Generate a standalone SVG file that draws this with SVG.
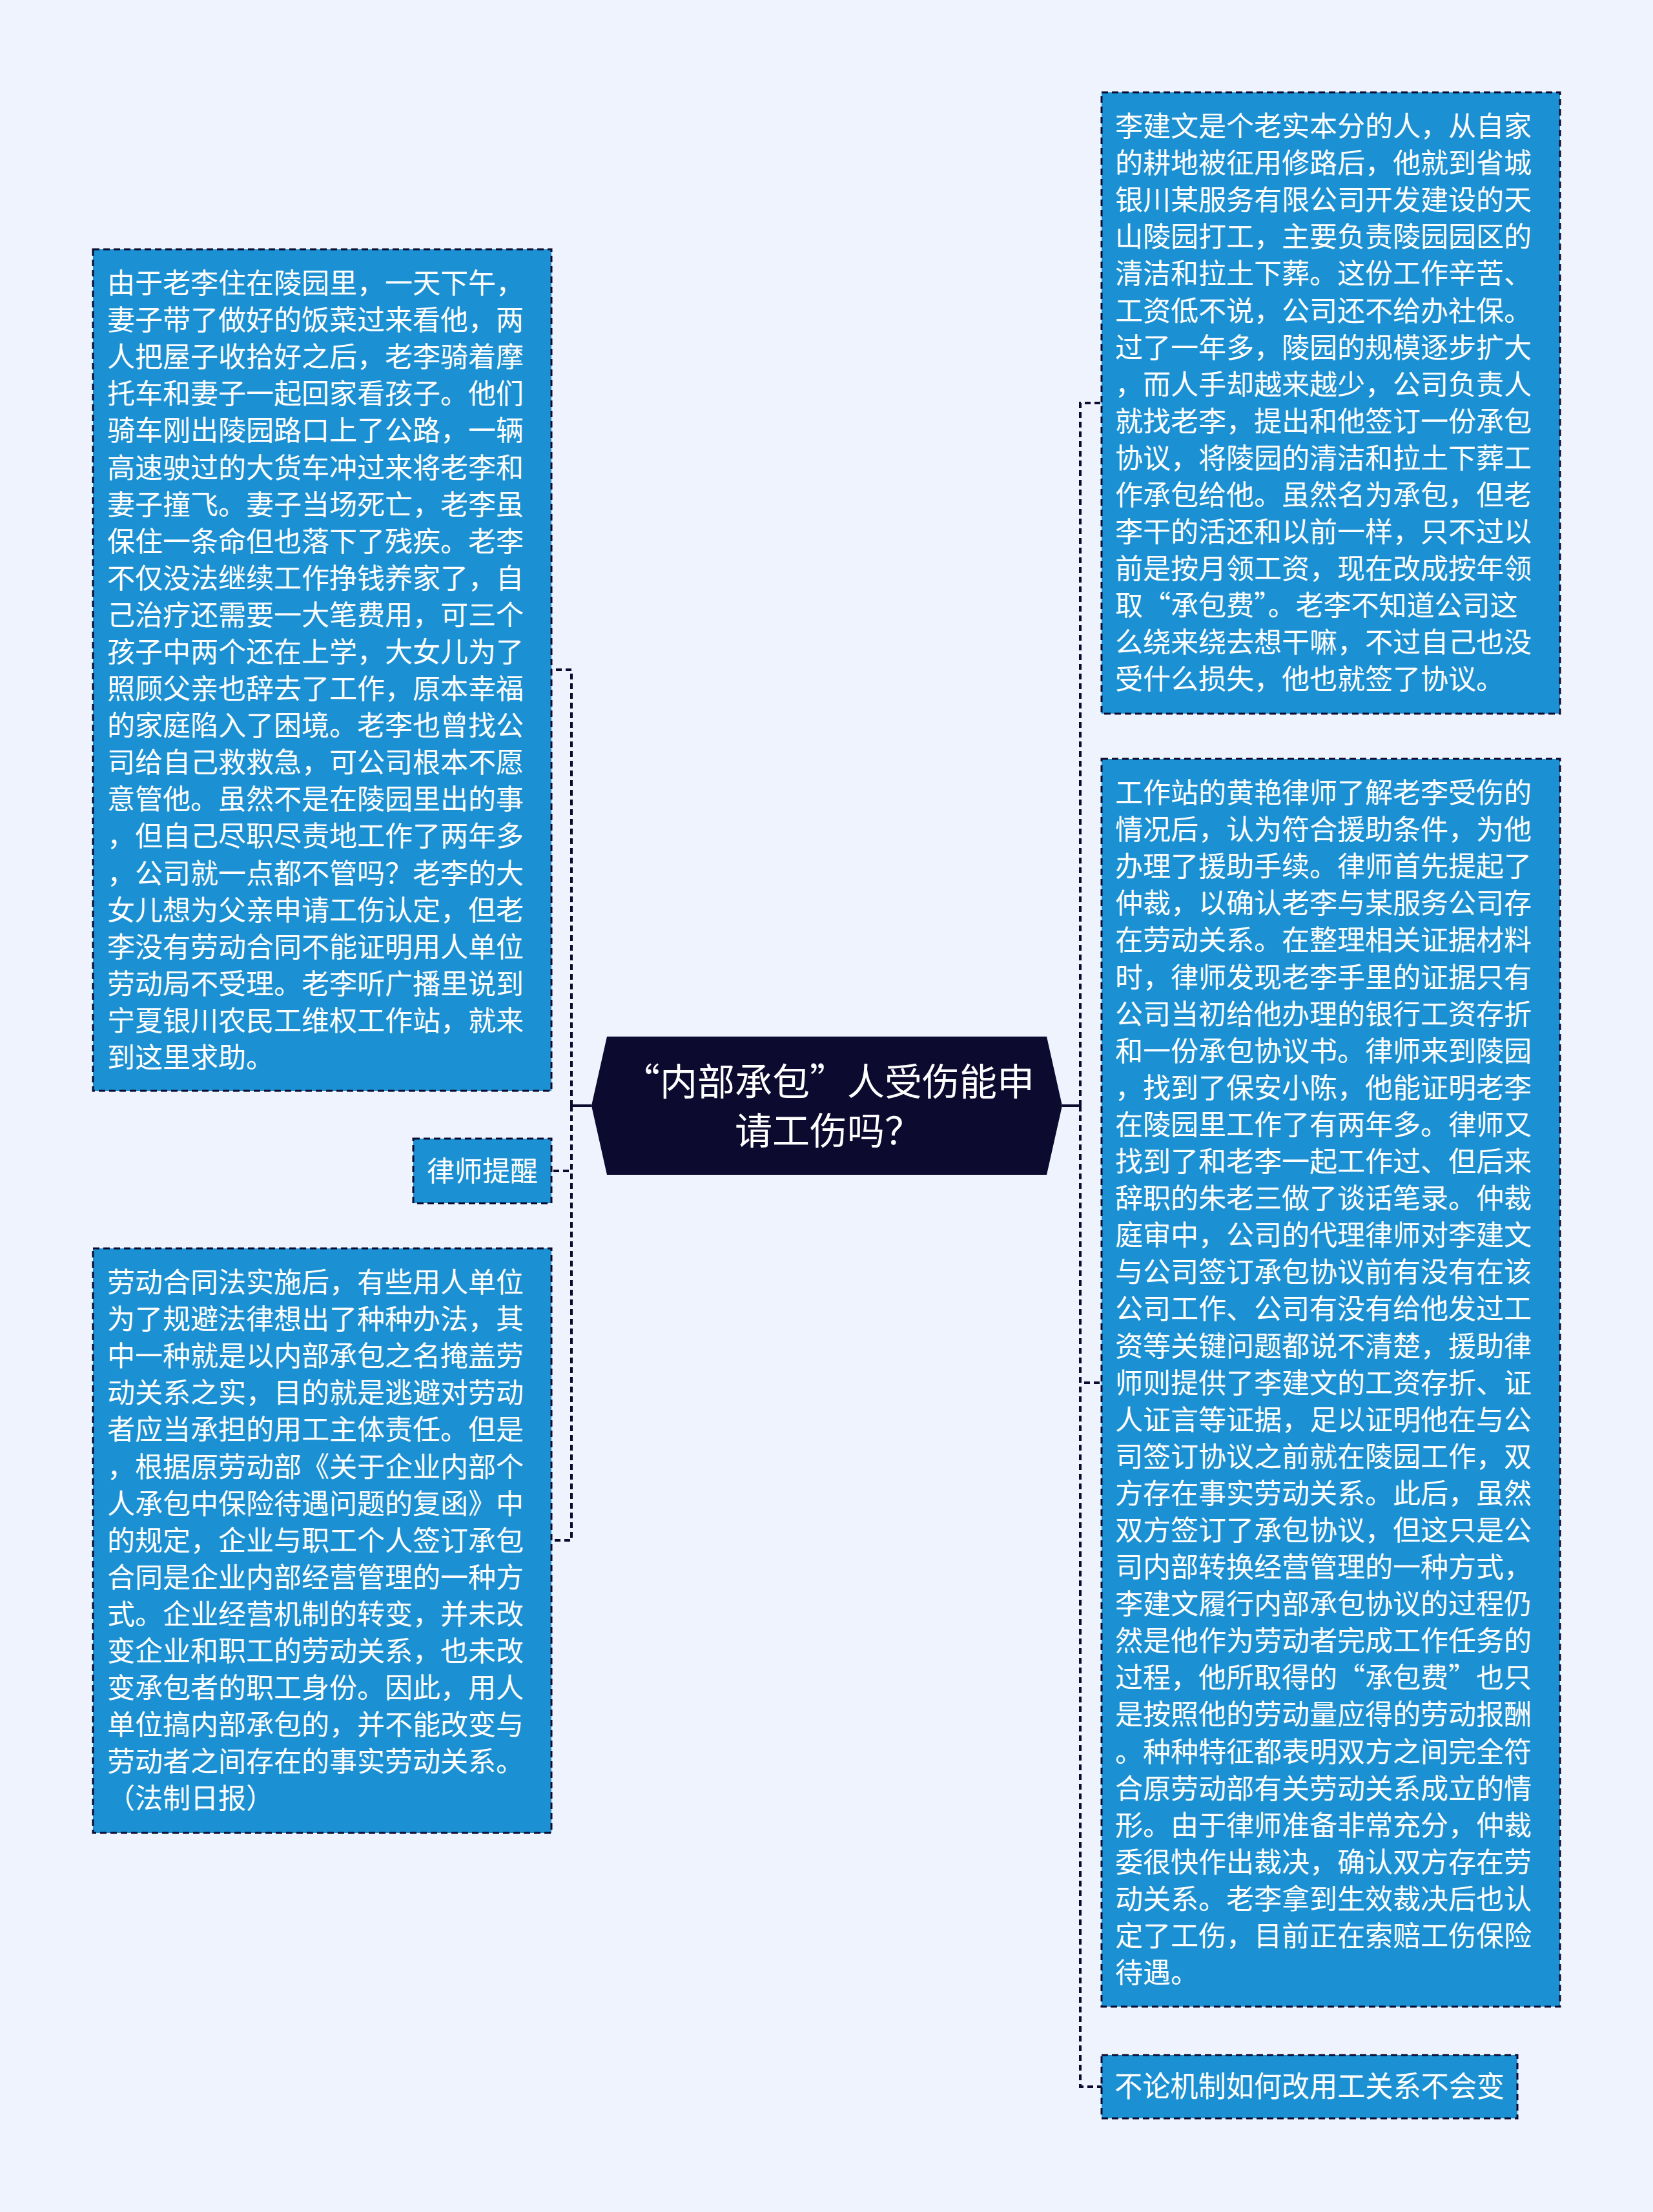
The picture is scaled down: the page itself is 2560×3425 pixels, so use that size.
<svg xmlns="http://www.w3.org/2000/svg" width="2560" height="3425" viewBox="0 0 2560 3425">
<style>
.box{fill:#1b90d2;stroke:#0c0a2e;stroke-width:3;stroke-dasharray:10 6}
.t{font-family:"Noto Sans CJK SC","Noto Sans CJK TC",sans-serif;font-size:43px;fill:#ffffff}
.edge{fill:none;stroke:#0c0a2e;stroke-width:4;stroke-dasharray:9 6}
.stub{fill:none;stroke:#0c0a2e;stroke-width:4}
</style>
<rect x="0" y="0" width="2560" height="3425" fill="#eef3fd"/>
<g id="connectors">
<path class="stub" d="M916 1712 H885"/>
<path class="edge" d="M885 1712 V1037 H854"/>
<path class="edge" d="M885 1712 V1813 H854"/>
<path class="edge" d="M885 1712 V2385 H854"/>
<path class="stub" d="M1645 1712 H1673"/>
<path class="edge" d="M1673 1712 V624 H1706"/>
<path class="edge" d="M1673 1712 V2141 H1706"/>
<path class="edge" d="M1673 1712 V3231 H1706"/>
</g>
<g id="center">
<polygon points="940,1605 1621,1605 1645,1712 1621,1819 940,1819 916,1712" fill="#0c0a2e"/>
<text class="t" style="font-size:58px" text-anchor="middle"><tspan x="1283" y="1696">“内部承包”人受伤能申</tspan><tspan x="1283" y="1772">请工伤吗？</tspan></text>
</g>
<g id="node-left-1">
<rect class="box" x="144" y="386" width="710" height="1303"/>
<text class="t" x="166" y="454"><tspan x="166">由于老李住在陵园里，一天下午，</tspan><tspan x="166" dy="57.1">妻子带了做好的饭菜过来看他，两</tspan><tspan x="166" dy="57.1">人把屋子收拾好之后，老李骑着摩</tspan><tspan x="166" dy="57.1">托车和妻子一起回家看孩子。他们</tspan><tspan x="166" dy="57.1">骑车刚出陵园路口上了公路，一辆</tspan><tspan x="166" dy="57.1">高速驶过的大货车冲过来将老李和</tspan><tspan x="166" dy="57.1">妻子撞飞。妻子当场死亡，老李虽</tspan><tspan x="166" dy="57.1">保住一条命但也落下了残疾。老李</tspan><tspan x="166" dy="57.1">不仅没法继续工作挣钱养家了，自</tspan><tspan x="166" dy="57.1">己治疗还需要一大笔费用，可三个</tspan><tspan x="166" dy="57.1">孩子中两个还在上学，大女儿为了</tspan><tspan x="166" dy="57.1">照顾父亲也辞去了工作，原本幸福</tspan><tspan x="166" dy="57.1">的家庭陷入了困境。老李也曾找公</tspan><tspan x="166" dy="57.1">司给自己救救急，可公司根本不愿</tspan><tspan x="166" dy="57.1">意管他。虽然不是在陵园里出的事</tspan><tspan x="166" dy="57.1">，但自己尽职尽责地工作了两年多</tspan><tspan x="166" dy="57.1">，公司就一点都不管吗？老李的大</tspan><tspan x="166" dy="57.1">女儿想为父亲申请工伤认定，但老</tspan><tspan x="166" dy="57.1">李没有劳动合同不能证明用人单位</tspan><tspan x="166" dy="57.1">劳动局不受理。老李听广播里说到</tspan><tspan x="166" dy="57.1">宁夏银川农民工维权工作站，就来</tspan><tspan x="166" dy="57.1">到这里求助。</tspan></text>
</g>
<g id="node-left-2">
<rect class="box" x="640" y="1763" width="214" height="100"/>
<text class="t" x="747" y="1829" text-anchor="middle">律师提醒</text>
</g>
<g id="node-left-3">
<rect class="box" x="144" y="1933" width="710" height="905"/>
<text class="t" x="166" y="2001"><tspan x="166">劳动合同法实施后，有些用人单位</tspan><tspan x="166" dy="57.1">为了规避法律想出了种种办法，其</tspan><tspan x="166" dy="57.1">中一种就是以内部承包之名掩盖劳</tspan><tspan x="166" dy="57.1">动关系之实，目的就是逃避对劳动</tspan><tspan x="166" dy="57.1">者应当承担的用工主体责任。但是</tspan><tspan x="166" dy="57.1">，根据原劳动部《关于企业内部个</tspan><tspan x="166" dy="57.1">人承包中保险待遇问题的复函》中</tspan><tspan x="166" dy="57.1">的规定，企业与职工个人签订承包</tspan><tspan x="166" dy="57.1">合同是企业内部经营管理的一种方</tspan><tspan x="166" dy="57.1">式。企业经营机制的转变，并未改</tspan><tspan x="166" dy="57.1">变企业和职工的劳动关系，也未改</tspan><tspan x="166" dy="57.1">变承包者的职工身份。因此，用人</tspan><tspan x="166" dy="57.1">单位搞内部承包的，并不能改变与</tspan><tspan x="166" dy="57.1">劳动者之间存在的事实劳动关系。</tspan><tspan x="166" dy="57.1">（法制日报）</tspan></text>
</g>
<g id="node-right-1">
<rect class="box" x="1706" y="143" width="710" height="962"/>
<text class="t" x="1727" y="211"><tspan x="1727">李建文是个老实本分的人，从自家</tspan><tspan x="1727" dy="57.1">的耕地被征用修路后，他就到省城</tspan><tspan x="1727" dy="57.1">银川某服务有限公司开发建设的天</tspan><tspan x="1727" dy="57.1">山陵园打工，主要负责陵园园区的</tspan><tspan x="1727" dy="57.1">清洁和拉土下葬。这份工作辛苦、</tspan><tspan x="1727" dy="57.1">工资低不说，公司还不给办社保。</tspan><tspan x="1727" dy="57.1">过了一年多，陵园的规模逐步扩大</tspan><tspan x="1727" dy="57.1">，而人手却越来越少，公司负责人</tspan><tspan x="1727" dy="57.1">就找老李，提出和他签订一份承包</tspan><tspan x="1727" dy="57.1">协议，将陵园的清洁和拉土下葬工</tspan><tspan x="1727" dy="57.1">作承包给他。虽然名为承包，但老</tspan><tspan x="1727" dy="57.1">李干的活还和以前一样，只不过以</tspan><tspan x="1727" dy="57.1">前是按月领工资，现在改成按年领</tspan><tspan x="1727" dy="57.1">取“承包费”。老李不知道公司这</tspan><tspan x="1727" dy="57.1">么绕来绕去想干嘛，不过自己也没</tspan><tspan x="1727" dy="57.1">受什么损失，他也就签了协议。</tspan></text>
</g>
<g id="node-right-2">
<rect class="box" x="1706" y="1175" width="710" height="1932"/>
<text class="t" x="1727" y="1243"><tspan x="1727">工作站的黄艳律师了解老李受伤的</tspan><tspan x="1727" dy="57.1">情况后，认为符合援助条件，为他</tspan><tspan x="1727" dy="57.1">办理了援助手续。律师首先提起了</tspan><tspan x="1727" dy="57.1">仲裁，以确认老李与某服务公司存</tspan><tspan x="1727" dy="57.1">在劳动关系。在整理相关证据材料</tspan><tspan x="1727" dy="57.1">时，律师发现老李手里的证据只有</tspan><tspan x="1727" dy="57.1">公司当初给他办理的银行工资存折</tspan><tspan x="1727" dy="57.1">和一份承包协议书。律师来到陵园</tspan><tspan x="1727" dy="57.1">，找到了保安小陈，他能证明老李</tspan><tspan x="1727" dy="57.1">在陵园里工作了有两年多。律师又</tspan><tspan x="1727" dy="57.1">找到了和老李一起工作过、但后来</tspan><tspan x="1727" dy="57.1">辞职的朱老三做了谈话笔录。仲裁</tspan><tspan x="1727" dy="57.1">庭审中，公司的代理律师对李建文</tspan><tspan x="1727" dy="57.1">与公司签订承包协议前有没有在该</tspan><tspan x="1727" dy="57.1">公司工作、公司有没有给他发过工</tspan><tspan x="1727" dy="57.1">资等关键问题都说不清楚，援助律</tspan><tspan x="1727" dy="57.1">师则提供了李建文的工资存折、证</tspan><tspan x="1727" dy="57.1">人证言等证据，足以证明他在与公</tspan><tspan x="1727" dy="57.1">司签订协议之前就在陵园工作，双</tspan><tspan x="1727" dy="57.1">方存在事实劳动关系。此后，虽然</tspan><tspan x="1727" dy="57.1">双方签订了承包协议，但这只是公</tspan><tspan x="1727" dy="57.1">司内部转换经营管理的一种方式，</tspan><tspan x="1727" dy="57.1">李建文履行内部承包协议的过程仍</tspan><tspan x="1727" dy="57.1">然是他作为劳动者完成工作任务的</tspan><tspan x="1727" dy="57.1">过程，他所取得的“承包费”也只</tspan><tspan x="1727" dy="57.1">是按照他的劳动量应得的劳动报酬</tspan><tspan x="1727" dy="57.1">。种种特征都表明双方之间完全符</tspan><tspan x="1727" dy="57.1">合原劳动部有关劳动关系成立的情</tspan><tspan x="1727" dy="57.1">形。由于律师准备非常充分，仲裁</tspan><tspan x="1727" dy="57.1">委很快作出裁决，确认双方存在劳</tspan><tspan x="1727" dy="57.1">动关系。老李拿到生效裁决后也认</tspan><tspan x="1727" dy="57.1">定了工伤，目前正在索赔工伤保险</tspan><tspan x="1727" dy="57.1">待遇。</tspan></text>
</g>
<g id="node-right-3">
<rect class="box" x="1706" y="3182" width="644" height="98"/>
<text class="t" style="font-size:45px" x="1726" y="3247" textLength="604" lengthAdjust="spacingAndGlyphs">不论机制如何改用工关系不会变</text>
</g>
</svg>
